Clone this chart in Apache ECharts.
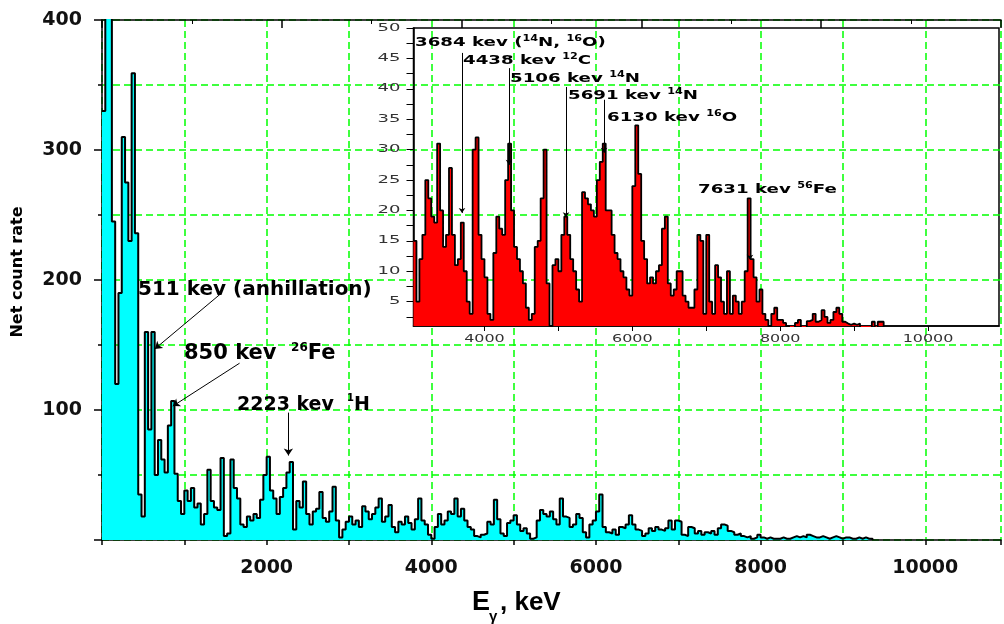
<!DOCTYPE html>
<html>
<head>
<meta charset="utf-8">
<title>Net count rate spectrum</title>
<script src="https://cdn.jsdelivr.net/npm/echarts@6.0.0/dist/echarts.min.js"></script>
<style>
  html, body { margin: 0; padding: 0; background: #fff; }
  #chart { width: 1004px; height: 624px; }
</style>
</head>
<body>
<div id="chart"></div>
<script>
// full spectrum, 40 keV bins starting at 0 keV
const mainBinWidth = 40;
const mainCounts = [
  330, 480, 480, 245, 120, 190, 310, 275, 230, 359,
  236, 35, 18, 160, 85, 160, 50, 77, 62, 52,
  88, 107, 51, 30, 20, 38, 30, 40, 25, 28,
  12, 20, 54, 30, 25, 23, 63, 3, 5, 62,
  40, 32, 12, 10, 18, 15, 20, 17, 31, 50,
  64, 38, 32, 20, 33, 40, 52, 60, 8, 30,
  25, 45, 20, 12, 22, 24, 37, 17, 14, 22,
  41, 15, 2, 8, 14, 18, 12, 15, 10, 26,
  22, 16, 20, 25, 32, 14, 18, 27, 10, 6,
  14, 12, 18, 13, 8, 16, 32, 15, 12, 4,
  1, 10, 20, 12, 15, 22, 20, 32, 18, 24,
  15, 10, 8, 3, 2, 4, 5, 14, 12, 31,
  16, 5, 3, 13, 15, 19, 12, 7, 9, 5,
  1, 2, 15, 23, 20, 18, 22, 16, 12, 32,
  18, 17, 10, 12, 20, 17, 6, 2, 12, 15,
  22, 35, 10, 6, 5, 8, 4, 10, 9, 12,
  19, 12, 8, 7, 3, 5, 9, 7, 10, 8,
  7, 9, 15, 8, 15, 14, 4, 3, 10, 9,
  5, 7, 4, 6, 5, 7, 4, 9, 12, 11,
  7, 6, 4, 5, 3, 2, 3, 1, 2, 4,
  2, 1, 2, 1, 1, 1, 2, 1, 1, 2,
  3, 2, 3, 2, 4, 3, 2, 2, 3, 2,
  1, 2, 3, 2, 1, 2, 2, 1, 1, 2,
  1, 2, 1, 1
];

// inset spectrum, 40 keV bins starting at 3040 keV
const insetStart = 3040;
const insetBinWidth = 40;
const insetCounts = [
  15, 5, 12, 16, 25, 22, 19, 18, 31, 20,
  14, 16, 27, 16, 11, 12, 18, 10, 5, 3,
  30, 32, 16, 12, 9, 3, 2, 13, 19, 17,
  16, 25, 31, 20, 14, 12, 10, 8, 4, 2,
  3, 14, 15, 22, 30, 8, 1, 11, 12, 10,
  16, 19, 16, 12, 10, 7, 5, 23, 22, 21,
  20, 19, 25, 28, 31, 20, 20, 16, 13, 12,
  10, 9, 7, 6, 24, 34, 26, 15, 12, 8,
  9, 8, 10, 11, 17, 19, 8, 6, 7, 10,
  10, 6, 5, 4, 4, 7, 16, 15, 3, 16,
  5, 3, 11, 9, 5, 3, 10, 3, 6, 5,
  3, 5, 10, 22, 12, 9, 5, 7, 3, 2,
  1, 3, 4, 2, 2, 1.5, 1, 0, 0, 1.5,
  2, 0, 0, 1.8, 2, 3, 1.7, 2, 3.6, 2.5,
  1.5, 2, 3.3, 4, 3, 1.7, 1.4, 1.2, 1.4, 1.2,
  1.4, 0, 0, 0, 0, 1.7, 0, 1.7, 1.7
];

// tick labels
const insetXLabels = [4000, 6000, 8000, 10000];
const insetXTicks = [4000, 5000, 6000, 7000, 8000, 9000, 10000];
const insetYLabels = [5, 10, 15, 20, 25, 30, 35, 40, 45, 50];
const insetYTicks = [2.5, 5, 7.5, 10, 12.5, 15, 17.5, 20, 22.5, 25, 27.5, 30,
  32.5, 35, 37.5, 40, 42.5, 45, 47.5, 50];

// arrows [from, to] in data units (keV, counts)
const mainArrows = [
  [[1453, 190], [642, 147]],
  [[1671, 136], [860, 103]],
  [[2264, 98], [2264, 65]]
];
const insetArrows = [
  [[3696, 45.9], [3696, 19.6]],
  [[4332, 43.4], [4332, 27.5]],
  [[5103, 40.3], [5103, 18.9]],
  [[5617, 38.2], [5617, 29.5]],
  [[7591, 21.7], [7591, 11.9]]
];

function toSteps(counts, start, width) {
  const pts = counts.map((v, i) => [start + i * width, v]);
  pts.push([start + counts.length * width, 0]);
  return pts;
}

function arrowLines(list, size) {
  return {
    silent: true,
    symbol: ['none', 'arrow'],
    symbolSize: size,
    label: { show: false },
    lineStyle: { color: '#000', width: 1, type: 'solid' },
    emphasis: { disabled: true },
    data: list.map(a => [{ coord: a[0] }, { coord: a[1] }])
  };
}

const gridLine = { color: '#00ff00', width: 1.5, type: [7, 4] };
const boldFont = 'DejaVu Sans';

const chart = echarts.init(document.getElementById('chart'));

chart.setOption({
  animation: false,
  backgroundColor: '#fff',
  grid: [
    { left: 102, top: 20, right: 0, bottom: 84, show: false },
    { left: 413.5, top: 28, width: 585.5, height: 298, show: true,
      borderColor: '#000', borderWidth: 1.5, backgroundColor: 'transparent' }
  ],
  xAxis: [
    {
      type: 'value', gridIndex: 0, min: 0, max: 10920, interval: 1000,
      axisLine: { lineStyle: { color: '#000', width: 1.5 } },
      axisTick: { length: 5, lineStyle: { color: '#000', width: 1.5 } },
      axisLabel: {
        margin: 19, color: '#111', fontFamily: boldFont, fontWeight: 'bold', fontSize: 19,
        formatter: v => (v > 0 && v % 2000 === 0) ? String(v) : ''
      },
      splitLine: { show: true, lineStyle: gridLine }
    },
    {
      type: 'value', gridIndex: 0, position: 'top', min: 0, max: 5, interval: 1,
      axisLine: { lineStyle: { color: '#000', width: 1.5 } },
      axisTick: { inside: true, length: 8, lineStyle: { color: '#000', width: 1.5 } },
      minorTick: { show: true, splitNumber: 2, length: 4, lineStyle: { color: '#000' } },
      axisLabel: { show: false },
      splitLine: { show: false }
    },
    {
      type: 'value', gridIndex: 1, min: insetStart, max: 10960,
      axisLine: { lineStyle: { color: '#000', width: 1.5 } },
      axisTick: { customValues: insetXTicks, length: 5, lineStyle: { color: '#000' } },
      axisLabel: { show: false },
      splitLine: { show: false }
    }
  ],
  yAxis: [
    {
      type: 'value', gridIndex: 0, min: 0, max: 400, interval: 100,
      axisLine: { show: true, lineStyle: { color: '#000', width: 1.5 } },
      axisTick: { show: true, length: 8, lineStyle: { color: '#000', width: 1.5 } },
      minorTick: { show: true, splitNumber: 2, length: 4, lineStyle: { color: '#000', width: 1.5 } },
      axisLabel: {
        margin: 20, color: '#111', fontFamily: boldFont, fontWeight: 'bold', fontSize: 19,
        formatter: v => v > 0 ? String(v) : ''
      },
      splitLine: { show: true, lineStyle: gridLine },
      minorSplitLine: { show: true, lineStyle: gridLine }
    },
    {
      type: 'value', gridIndex: 1, min: 1, max: 50,
      axisLine: { show: true, lineStyle: { color: '#000', width: 1.5 } },
      axisTick: { show: true, customValues: insetYTicks, length: 7, lineStyle: { color: '#000' } },
      axisLabel: { show: false },
      splitLine: { show: false }
    }
  ],
  series: [
    {
      type: 'line', xAxisIndex: 0, yAxisIndex: 0, step: 'end', symbol: 'none',
      data: toSteps(mainCounts, 0, mainBinWidth),
      lineStyle: { color: '#000', width: 2 },
      areaStyle: { color: '#00ffff', opacity: 1, origin: 'start' },
      markLine: arrowLines(mainArrows, 7),
      z: 3
    },
    {
      type: 'line', xAxisIndex: 2, yAxisIndex: 1, step: 'end', symbol: 'none',
      data: toSteps(insetCounts, insetStart, insetBinWidth),
      lineStyle: { color: '#000', width: 1.8 },
      areaStyle: { color: '#ff0000', opacity: 1, origin: 'start' },
      markLine: arrowLines(insetArrows, 5),
      z: 3
    }
  ]
});

// text labels and annotations
function richText(x, y, text, rich, opts) {
  return Object.assign({
    type: 'text', x: x, y: y, z: 10,
    style: { text: text, rich: rich, align: 'left', verticalAlign: 'middle', fill: '#000' }
  }, opts || {});
}

const mainRich = size => ({
  a: { fontFamily: boldFont, fontWeight: 'bold', fontSize: size, color: '#000', lineHeight: size + 4 },
  s: { fontFamily: boldFont, fontWeight: 'bold', fontSize: Math.round(size * 0.55), color: '#000', verticalAlign: 'top', lineHeight: size + 4 }
});
const insetRich = {
  a: { fontFamily: boldFont, fontWeight: 'bold', fontSize: 13, color: '#111', lineHeight: 16 },
  s: { fontFamily: boldFont, fontWeight: 'bold', fontSize: 8, color: '#111', verticalAlign: 'top', lineHeight: 16 }
};

const graphics = [
  // axis titles
  { type: 'text', x: 18, y: 272, rotation: Math.PI / 2, z: 10,
    style: { text: 'Net count rate', fontFamily: boldFont, fontWeight: 'bold', fontSize: 16,
      fill: '#000', align: 'center', verticalAlign: 'middle' } },
  { type: 'text', x: 472, y: 603, z: 10,
    style: { text: 'E', fontFamily: 'Liberation Sans', fontWeight: 'bold', fontSize: 27,
      fill: '#000', align: 'left', verticalAlign: 'middle' } },
  { type: 'text', x: 489, y: 617, z: 10,
    style: { text: 'γ', fontFamily: 'Liberation Sans', fontWeight: 'bold', fontSize: 15,
      fill: '#000', align: 'left', verticalAlign: 'middle' } },
  { type: 'text', x: 500, y: 603, z: 10,
    style: { text: ', keV', fontFamily: 'Liberation Sans', fontWeight: 'bold', fontSize: 26,
      fill: '#000', align: 'left', verticalAlign: 'middle' } },
  // main annotations
  richText(138, 290, '{a|511 kev (anhillation)}', mainRich(20)),
  richText(184, 354, '{a|850 kev  }{s|26}{a|Fe}', mainRich(21)),
  richText(237, 405, '{a|2223 kev  }{s|1}{a|H}', mainRich(19)),
  // inset annotations
  richText(415, 43, '{a|3684 kev (}{s|14}{a|N, }{s|16}{a|O)}', insetRich, { scaleX: 1.4 }),
  richText(463, 61, '{a|4438 kev }{s|12}{a|C}', insetRich, { scaleX: 1.4 }),
  richText(510, 79, '{a|5106 kev }{s|14}{a|N}', insetRich, { scaleX: 1.4 }),
  richText(568, 96, '{a|5691 kev }{s|14}{a|N}', insetRich, { scaleX: 1.4 }),
  richText(607, 118, '{a|6130 kev }{s|16}{a|O}', insetRich, { scaleX: 1.4 }),
  richText(698, 190, '{a|7631 kev }{s|56}{a|Fe}', insetRich, { scaleX: 1.4 })
];

// inset tick labels, placed through the inset axes
const insetBottom = chart.convertToPixel({ yAxisIndex: 1 }, 1);
const insetLeft = chart.convertToPixel({ xAxisIndex: 2 }, insetStart);
insetXLabels.forEach(v => {
  graphics.push({
    type: 'text', x: chart.convertToPixel({ xAxisIndex: 2 }, v), y: insetBottom + 8, scaleX: 1.45, z: 10,
    style: { text: String(v), fontFamily: 'DejaVu Sans', fontSize: 11, fill: '#333',
      align: 'center', verticalAlign: 'top' }
  });
});
insetYLabels.forEach(v => {
  graphics.push({
    type: 'text', x: insetLeft - 13, y: chart.convertToPixel({ yAxisIndex: 1 }, v), scaleX: 1.8, z: 10,
    style: { text: String(v), fontFamily: 'DejaVu Sans', fontSize: 10, fill: '#333',
      align: 'right', verticalAlign: 'middle' }
  });
});

chart.setOption({ graphic: { elements: graphics } });
</script>
</body>
</html>
